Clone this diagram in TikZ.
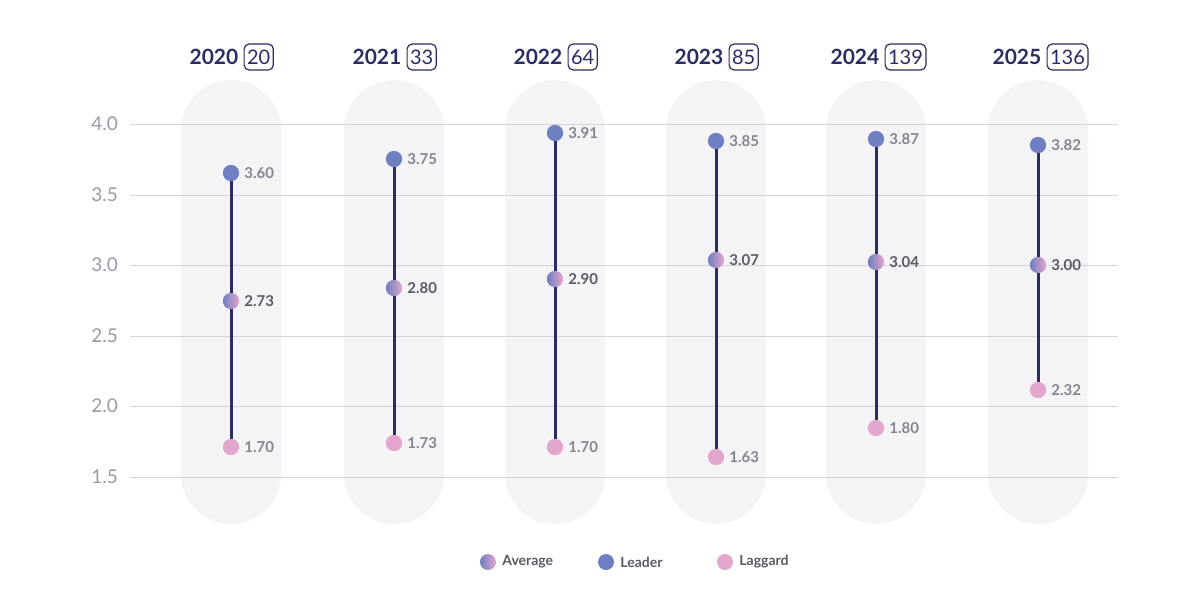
\documentclass[tikz,border=0pt]{standalone}
\usepackage{fontspec}
\setmainfont{Lato}
\usetikzlibrary{positioning}
\definecolor{navy}{HTML}{2B2D62}
\definecolor{leadc}{HTML}{6F7FC2}
\definecolor{lagc}{HTML}{E3A6CC}
\definecolor{pillc}{HTML}{F4F4F6}
\definecolor{gridc}{HTML}{D4D4D8}
\definecolor{tickc}{HTML}{9A9AA8}
\definecolor{valc}{HTML}{85858F}
\definecolor{avgv}{HTML}{5A5A66}
\tikzset{
  dot/.style={circle,inner sep=0pt,minimum size=16pt},
  lead/.style={dot,fill=leadc},
  lag/.style={dot,fill=lagc},
  avg/.style={dot,left color=leadc,right color=lagc},
  val/.style={anchor=west,text=valc,font=\bfseries\fontsize{15}{15}\selectfont,inner sep=0pt},
  tick/.style={anchor=east,text=tickc,font=\fontsize{19}{19}\selectfont,inner sep=0pt},
  year/.style={anchor=east,text=navy,font=\bfseries\fontsize{21}{21}\selectfont,inner sep=0pt},
  cnt/.style={draw=navy,line width=1.2pt,rounded corners=5pt,text=navy,font=\fontsize{20}{20}\selectfont,inner xsep=3pt,inner ysep=2.5pt,minimum height=26pt},
  leg/.style={anchor=mid west,text=avgv,font=\bfseries\fontsize{14}{14}\selectfont,inner sep=0pt}
}
\begin{document}
\begin{tikzpicture}[x=1pt,y=-1pt]
\useasboundingbox[fill=white] (0,0) rectangle (1200,608);
% pills
\foreach \c in {231,394,555,716,876,1038}
  \fill[pillc,rounded corners=50pt] (\c-50,80) rectangle (\c+50,524);
% grid and ticks
\foreach \v/\y in {4.0/124,3.5/195,3.0/265,2.5/336,2.0/406,1.5/477}{
  \draw[gridc,line width=1pt] (130,\y) -- (1118,\y);
  \node[tick] at (118,\y) {\v};
}
% columns
\foreach \i/\c/\yr/\n/\off/\ly/\my/\gy/\lv/\mv/\gv in {
  1/231/2020/20/7.5/173/301/447/3.60/2.73/1.70,
  2/394/2021/33/7.5/159/288/443/3.75/2.80/1.73,
  3/555/2022/64/7.5/133/279/447/3.91/2.90/1.70,
  4/716/2023/85/7.5/141/260/457/3.85/3.07/1.63,
  5/876/2024/139/3.5/139/262/428/3.87/3.04/1.80,
  6/1038/2025/136/3.5/145/265/390/3.82/3.00/2.32}{
  \node[year] (yr\i) at (\c+\off,57) {\yr};
  \node[cnt,right=5pt of yr\i] (n\i) {\n};
  \node[lead] (l\i) at (\c,\ly) {};
  \node[avg] (m\i) at (\c,\my) {};
  \node[lag] (g\i) at (\c,\gy) {};
  \draw[navy,line width=3pt] (l\i) -- (m\i);
  \draw[navy,line width=3pt] (m\i) -- (g\i);
  \node[lead] at (l\i) {};
  \node[avg] at (m\i) {};
  \node[lag] at (g\i) {};
  \node[val,right=5pt of l\i] {\lv};
  \node[val,text=avgv,right=5pt of m\i] {\mv};
  \node[val,right=5pt of g\i] {\gv};
}
% legend
\node[avg] (la) at (488,562) {};
\node[leg,right=6pt of la] {Average};
\node[lead] (ll) at (606,562) {};
\node[leg,right=6pt of ll] {Leader};
\node[lag] (lg) at (725,562) {};
\node[leg,right=6pt of lg] {Laggard};
\end{tikzpicture}
\end{document}
